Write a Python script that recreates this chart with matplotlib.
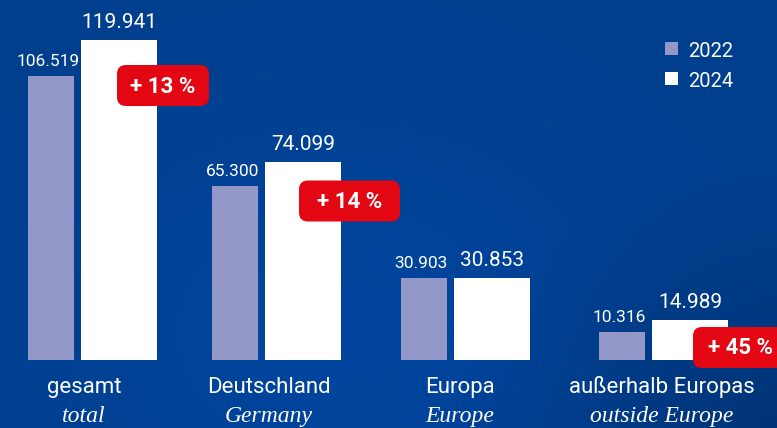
import numpy as np
import matplotlib.pyplot as plt
from matplotlib.patches import FancyBboxPatch, Rectangle

# data
categories_de = ['gesamt', 'Deutschland', 'Europa', 'außerhalb Europas']
categories_en = ['total', 'Germany', 'Europe', 'outside Europe']
years = ['2022', '2024']
values_2022 = [106519, 65300, 30903, 10316]
values_2024 = [119941, 74099, 30853, 14989]
growth = ['+ 13 %', '+ 14 %', None, '+ 45 %']

# layout (pixels)
W, H = 777, 428
base_px = 360
px_per_unit = 320 / 119941
left_2022 = [28, 212, 401, 599]
w_2022, w_2024, gap = 46, 76, 7
label_x = [84, 269, 460, 662]
badges = [(163, 85.5, 92), (349.5, 201, 101), None, (741, 347.5, 96)]

col_2022 = '#9398c9'
col_2024 = '#ffffff'
col_red = '#e30613'

sans = ['Roboto', 'DejaVu Sans']
serif = ['Liberation Serif', 'DejaVu Serif']


def fmt(v):
    return f'{v:,}'.replace(',', '.')


fig = plt.figure(figsize=(W / 100, H / 100), dpi=100)
ax = fig.add_axes([0, 0, 1, 1])
ymax = base_px / px_per_unit
ymin = -(H - base_px) / px_per_unit
ax.set_xlim(0, W)
ax.set_ylim(ymin, ymax)
ax.axis('off')

# background gradient
yy, xx = np.mgrid[0:H, 0:W]
base = np.array([0x00, 0x3f, 0x8e]) / 255
bump = np.exp(-(((xx - 340) / 260) ** 2 + ((yy - 330) / 200) ** 2))
dark = np.clip(1 - np.hypot((xx - W) / 330, (yy - H) / 260), 0, 1)
img = base[None, None, :] + bump[..., None] * np.array([0, 0x06, 0x10]) / 255 \
    - dark[..., None] * np.array([0, 0x0b, 0x18]) / 255
ax.imshow(np.clip(img, 0, 1), extent=(0, W, ymin, ymax), aspect='auto', zorder=0)

# bars
x22 = np.array(left_2022)
x24 = x22 + w_2022 + gap
ax.bar(x22, values_2022, width=w_2022, align='edge', color=col_2022, zorder=2)
ax.bar(x24, values_2024, width=w_2024, align='edge', color=col_2024, zorder=2)

for x, v in zip(x22, values_2022):
    ax.annotate(fmt(v), (x + w_2022 / 2, v), xytext=(-2, 7.2), textcoords='offset points',
                ha='center', va='baseline', color='white', fontsize=12.5, family=sans)
for x, v in zip(x24, values_2024):
    ax.annotate(fmt(v), (x + w_2024 / 2, v), xytext=(0, 8.6), textcoords='offset points',
                ha='center', va='baseline', color='white', fontsize=15, family=sans)

# overlay in pixel coordinates
ov = fig.add_axes([0, 0, 1, 1])
ov.set_xlim(0, W)
ov.set_ylim(H, 0)
ov.axis('off')
ov.patch.set_alpha(0)

for b, g in zip(badges, growth):
    if b is None:
        continue
    cx, cy, bw = b
    bh = 41
    ov.add_patch(FancyBboxPatch((cx - bw / 2, cy - bh / 2), bw, bh,
                                boxstyle='round,pad=0,rounding_size=9',
                                fc=col_red, ec='none', zorder=5))
    ov.text(cx, cy + 1, g, ha='center', va='center', color='white',
            fontsize=16, fontweight='bold', family=sans, zorder=6)

for x, de, en in zip(label_x, categories_de, categories_en):
    ov.text(x, 393, de, ha='center', va='baseline', color='white', fontsize=16, family=sans)
    ov.text(x, 422, en, ha='center', va='baseline', color='white', fontsize=17,
            family=serif, style='italic')

# legend
for yr, col, top in zip(years, [col_2022, col_2024], [42, 72]):
    ov.add_patch(Rectangle((665, top), 13, 13, fc=col, ec='none'))
    ov.text(688, top + 15, yr, ha='left', va='baseline', color='white', fontsize=14.5, family=sans)

fig.savefig('out.png', dpi=100)
